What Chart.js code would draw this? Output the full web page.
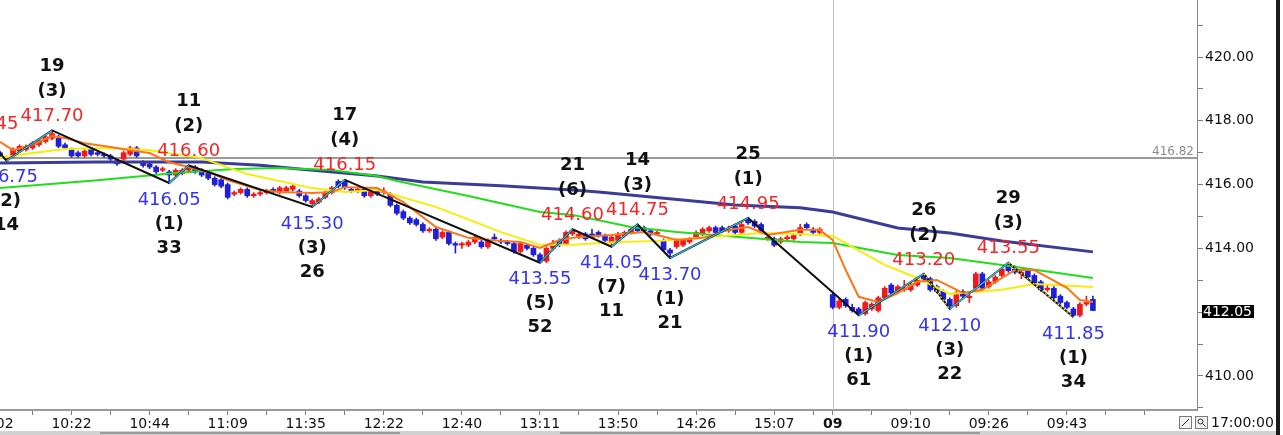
<!DOCTYPE html>
<html>
<head>
<meta charset="utf-8">
<script src="https://cdn.jsdelivr.net/npm/chart.js@4"></script>
<style>
  html, body { margin: 0; padding: 0; background: #fff; overflow: hidden; }
  canvas { display: block; }
</style>
</head>
<body>
<canvas id="myChart" width="1283" height="435"></canvas>
<script>
// candles, one per slot (slot 127 is empty, day break at 128)
let opens = [
  417.00, 416.80, 416.90, 417.05, 417.10, 417.15, 417.25, 417.35, 417.45, 417.45,
  417.25, 417.10, 417.00, 416.90, 417.10, 417.00, 416.95, 416.90, 416.75, 416.80,
  416.95, 417.15, 416.70, 416.65, 416.55, 416.45, 416.40, 416.30, 416.35, 416.45,
  416.55, 416.45, 416.35, 416.20, 416.15, 416.00, 415.70, 415.75, 415.85, 415.65,
  415.70, 415.75, 415.85, 415.75, 415.80, 415.85, 415.80, 415.65, 415.40, 415.45,
  415.60, 415.75, 416.10, 416.10, 415.85, 415.80, 415.85, 415.65, 415.80, 415.75,
  415.70, 415.35, 415.15, 414.95, 414.90, 414.75, 414.55, 414.60, 414.35, 414.50,
  414.15, 414.10, 414.10, 414.20, 414.20, 414.05, 414.35, 414.25, 414.20, 414.15,
  413.90, 414.10, 414.00, 413.80, 413.60, 414.00, 414.25, 414.15, 414.45, 414.35,
  414.45, 414.45, 414.50, 414.40, 414.20, 414.25, 414.40, 414.50, 414.70, 414.65,
  414.55, 414.45, 414.25, 413.95, 414.05, 414.10, 414.20, 414.35, 414.45, 414.55,
  414.65, 414.65, 414.55, 414.70, 414.50, 414.90, 414.85, 414.75, 414.30, 414.30,
  414.20, 414.30, 414.30, 414.45, 414.75, 414.60, 414.50, null, 412.55, 412.15,
  412.40, 412.15, 412.10, 411.95, 412.10, 412.05, 412.45, 412.85, 412.65, 412.70,
  412.70, 412.85, 413.15, 413.05, 412.80, 412.65, 412.40, 412.20, 412.65, 412.45,
  412.75, 413.20, 412.80, 412.95, 413.15, 413.45, 413.35, 413.20, 413.30, 413.15,
  412.95, 412.70, 412.75, 412.50, 412.30, 412.10, 411.90, 412.25, 412.40
];
let highs = [
  417.05, 416.90, 417.15, 417.25, 417.25, 417.35, 417.40, 417.55, 417.70, 417.55,
  417.30, 417.15, 417.05, 417.10, 417.15, 417.05, 417.00, 416.95, 416.80, 417.05,
  417.20, 417.20, 416.75, 416.70, 416.60, 416.55, 416.45, 416.50, 416.50, 416.60,
  416.60, 416.50, 416.40, 416.25, 416.20, 416.05, 415.80, 415.90, 415.90, 415.75,
  415.80, 415.85, 415.90, 415.95, 415.95, 416.00, 415.85, 415.70, 415.55, 415.60,
  415.80, 415.95, 416.15, 416.15, 415.90, 415.90, 415.90, 415.85, 415.85, 415.90,
  415.75, 415.40, 415.20, 415.00, 414.95, 414.80, 414.65, 414.65, 414.55, 414.55,
  414.20, 414.20, 414.25, 414.40, 414.25, 414.30, 414.45, 414.30, 414.25, 414.20,
  414.20, 414.15, 414.05, 413.85, 414.05, 414.25, 414.30, 414.55, 414.60, 414.50,
  414.50, 414.60, 414.55, 414.45, 414.40, 414.50, 414.55, 414.65, 414.75, 414.70,
  414.60, 414.55, 414.30, 414.00, 414.30, 414.30, 414.35, 414.55, 414.65, 414.70,
  414.70, 414.70, 414.70, 414.75, 414.80, 414.95, 414.90, 414.80, 414.40, 414.35,
  414.35, 414.40, 414.45, 414.75, 414.80, 414.65, 414.65, null, 412.60, 412.40,
  412.45, 412.25, 412.15, 412.35, 412.30, 412.50, 412.80, 412.90, 412.85, 413.00,
  412.95, 413.10, 413.20, 413.10, 412.85, 412.70, 412.45, 412.65, 412.70, 412.60,
  413.25, 413.25, 413.00, 413.15, 413.40, 413.55, 413.45, 413.35, 413.35, 413.20,
  413.00, 412.85, 412.80, 412.55, 412.35, 412.15, 412.30, 412.50, 412.50
];
let lows = [
  416.85, 416.75, 416.85, 417.00, 417.05, 417.10, 417.20, 417.30, 417.40, 417.15,
  417.10, 416.85, 416.85, 416.85, 416.90, 416.90, 416.85, 416.75, 416.60, 416.75,
  416.90, 416.85, 416.55, 416.50, 416.35, 416.40, 416.05, 416.25, 416.30, 416.40,
  416.35, 416.25, 416.15, 415.95, 415.90, 415.55, 415.65, 415.70, 415.60, 415.60,
  415.65, 415.70, 415.75, 415.70, 415.75, 415.80, 415.60, 415.45, 415.30, 415.40,
  415.55, 415.70, 415.90, 415.85, 415.75, 415.75, 415.60, 415.60, 415.65, 415.70,
  415.30, 415.05, 414.90, 414.75, 414.70, 414.50, 414.50, 414.25, 414.30, 414.10,
  413.85, 414.00, 414.05, 414.15, 414.00, 414.00, 414.25, 414.15, 414.10, 413.85,
  413.85, 413.95, 413.75, 413.55, 413.55, 413.95, 414.05, 414.10, 414.40, 414.30,
  414.25, 414.30, 414.35, 414.20, 414.05, 414.20, 414.35, 414.45, 414.50, 414.50,
  414.40, 414.40, 413.90, 413.70, 414.00, 414.05, 414.15, 414.30, 414.40, 414.50,
  414.45, 414.50, 414.50, 414.45, 414.45, 414.75, 414.65, 414.45, 414.25, 414.05,
  414.15, 414.25, 414.25, 414.40, 414.60, 414.45, 414.45, null, 412.10, 412.10,
  412.15, 412.00, 411.90, 411.90, 412.05, 412.00, 412.40, 412.55, 412.60, 412.65,
  412.65, 412.80, 412.95, 412.65, 412.60, 412.35, 412.10, 412.15, 412.45, 412.30,
  412.70, 412.70, 412.75, 412.90, 413.10, 413.25, 413.20, 413.05, 413.05, 412.85,
  412.65, 412.65, 412.40, 412.25, 412.10, 411.85, 411.85, 412.20, 412.05
];
let closes = [
  416.90, 416.85, 417.10, 417.20, 417.20, 417.30, 417.40, 417.50, 417.60, 417.20,
  417.15, 416.90, 416.90, 417.05, 416.95, 416.95, 416.90, 416.80, 416.65, 417.00,
  417.15, 416.90, 416.60, 416.55, 416.40, 416.50, 416.30, 416.45, 416.45, 416.55,
  416.40, 416.30, 416.20, 416.00, 415.95, 415.60, 415.75, 415.85, 415.65, 415.70,
  415.75, 415.80, 415.80, 415.90, 415.90, 415.95, 415.65, 415.50, 415.50, 415.55,
  415.75, 415.90, 415.95, 415.90, 415.80, 415.85, 415.65, 415.80, 415.70, 415.80,
  415.35, 415.10, 414.95, 414.80, 414.75, 414.55, 414.60, 414.30, 414.50, 414.15,
  414.10, 414.15, 414.20, 414.35, 414.05, 414.25, 414.30, 414.20, 414.15, 413.90,
  414.15, 414.00, 413.80, 413.60, 414.00, 414.15, 414.10, 414.50, 414.55, 414.45,
  414.30, 414.35, 414.40, 414.25, 414.35, 414.45, 414.50, 414.60, 414.55, 414.55,
  414.45, 414.50, 413.95, 413.85, 414.25, 414.25, 414.30, 414.50, 414.60, 414.65,
  414.50, 414.55, 414.60, 414.50, 414.75, 414.80, 414.70, 414.50, 414.35, 414.10,
  414.30, 414.35, 414.40, 414.65, 414.65, 414.50, 414.60, null, 412.15, 412.35,
  412.20, 412.05, 411.95, 412.30, 412.25, 412.45, 412.75, 412.60, 412.80, 412.75,
  412.85, 413.05, 413.00, 412.70, 412.65, 412.40, 412.20, 412.60, 412.50, 412.50,
  413.20, 412.75, 412.95, 413.10, 413.35, 413.30, 413.25, 413.25, 413.10, 412.90,
  412.70, 412.75, 412.45, 412.30, 412.15, 411.90, 412.25, 412.30, 412.05
];

// moving averages (slot, value)
let ma5Idx = [0, 2, 5, 8, 10, 13, 17, 20, 23, 26, 29, 32, 35, 40, 43, 48, 51, 53, 58, 62, 67, 72, 75, 80, 83, 86, 89, 94, 99, 101, 104, 108, 112, 115, 118, 123, 126, 128, 130, 132, 135, 138, 141, 144, 148, 151, 154, 156, 159, 161, 164, 166, 168];
let ma5Val = [417.34, 417.08, 417.25, 417.52, 417.46, 417.30, 417.18, 417.08, 416.99, 416.70, 416.55, 416.39, 416.14, 415.83, 415.77, 415.74, 415.77, 415.92, 415.89, 415.45, 414.67, 414.33, 414.26, 414.20, 414.01, 414.26, 414.36, 414.42, 414.51, 414.42, 414.26, 414.33, 414.58, 414.67, 414.42, 414.58, 414.58, 414.26, 413.32, 412.48, 412.32, 412.60, 412.95, 413.01, 412.60, 412.70, 413.07, 413.32, 413.32, 413.10, 412.76, 412.38, 412.32];
let ma20Idx = [0, 5, 10, 17, 23, 31, 38, 48, 53, 58, 67, 77, 83, 88, 95, 101, 117, 123, 128, 136, 141, 146, 154, 159, 168];
let ma20Val = [416.83, 416.99, 417.12, 417.15, 417.08, 416.83, 416.33, 415.89, 415.77, 415.83, 415.30, 414.51, 414.11, 414.11, 414.20, 414.23, 414.48, 414.45, 414.39, 413.48, 413.07, 412.57, 412.70, 412.88, 412.79];
let ma60Idx = [0, 15, 27, 36, 43, 51, 58, 61, 72, 83, 88, 97, 104, 115, 123, 128, 138, 146, 154, 168];
let ma60Val = [415.89, 416.14, 416.36, 416.49, 416.52, 416.46, 416.27, 416.11, 415.64, 415.14, 415.05, 414.67, 414.51, 414.33, 414.20, 414.17, 413.79, 413.70, 413.48, 413.07];
let ma120Idx = [0, 15, 31, 40, 46, 58, 65, 77, 88, 92, 113, 123, 128, 138, 146, 154, 168];
let ma120Val = [416.68, 416.71, 416.71, 416.61, 416.49, 416.27, 416.08, 415.96, 415.83, 415.77, 415.36, 415.27, 415.14, 414.64, 414.48, 414.23, 413.89];

// swing points of the zigzag
let swingIdx = [-2, 1, 8, 26, 29, 48, 53, 83, 88, 94, 98, 103, 115, 132, 142, 146, 155, 165];
let swingPrice = [417.45, 416.75, 417.70, 416.05, 416.60, 415.30, 416.15, 413.55, 414.60, 414.05, 414.75, 413.70, 414.95, 411.90, 413.20, 412.10, 413.55, 411.85];
let swingWave = ['', '(2)', '(3)', '(1)', '(2)', '(3)', '(4)', '(5)', '(6)', '(7)', '(3)', '(1)', '(1)', '(1)', '(2)', '(3)', '(3)', '(1)'];
let swingCount = ['', '14', '19', '33', '11', '26', '17', '52', '21', '11', '14', '21', '25', '61', '26', '22', '29', '34'];

// time axis
let tickIdx = [-1, 11, 23, 35, 47, 59, 71, 83, 95, 107, 119, 128, 140, 152, 164];
let tickText = ['10:02', '10:22', '10:44', '11:09', '11:35', '12:22', '12:40', '13:11', '13:50', '14:26', '15:07', '09', '09:10', '09:26', '09:43'];
let minorIdx = [5, 17, 29, 41, 53, 65, 77, 89, 101, 113, 125, 134, 146, 158, 170, 176];
let dayBreak = 128;
let prevClose = 416.82;

const RED = '#f01a1a';
const BLUE = '#1f1fd9';
const FONT = '"DejaVu Sans"';

let bodies = [], wicks = [], candleColors = [];
opens.forEach((o, i) => {
  if (o === null) return;
  bodies.push({x: i, y: [o, closes[i]]});
  wicks.push({x: i, y: [lows[i], highs[i]]});
  candleColors.push(closes[i] >= o ? RED : BLUE);
});
let lastPrice = closes[closes.length - 1];

const toPts = (idx, val) => idx.map((v, k) => ({x: v, y: val[k]}));

// up legs and late down legs of the zigzag
function legs(up, from) {
  let pts = [];
  for (let k = 1; k < swingIdx.length; k++) {
    let rising = swingPrice[k] > swingPrice[k - 1];
    if (rising === up && swingIdx[k - 1] >= from) {
      pts.push({x: swingIdx[k - 1], y: swingPrice[k - 1]}, {x: swingIdx[k], y: swingPrice[k]}, {x: swingIdx[k], y: null});
    }
  }
  return pts;
}

const refLines = {
  id: 'refLines',
  beforeDatasetsDraw(chart) {
    const {ctx, chartArea: a, scales: {x, y}} = chart;
    ctx.save();
    let yl = Math.round(y.getPixelForValue(prevClose));
    ctx.strokeStyle = '#9b9b9b';
    ctx.lineWidth = 2;
    ctx.beginPath(); ctx.moveTo(a.left, yl); ctx.lineTo(a.right, yl); ctx.stroke();
    let xd = Math.round(x.getPixelForValue(dayBreak)) + 0.5;
    ctx.strokeStyle = '#c2c2c2';
    ctx.lineWidth = 1;
    ctx.beginPath(); ctx.moveTo(xd, 0); ctx.lineTo(xd, a.bottom); ctx.stroke();
    ctx.restore();
  }
};

const swingLabels = {
  id: 'swingLabels',
  afterDatasetsDraw(chart) {
    const {ctx, scales: {x, y}} = chart;
    ctx.save();
    ctx.textAlign = 'center';
    ctx.textBaseline = 'middle';
    swingIdx.forEach((idx, k) => {
      let px = x.getPixelForValue(idx);
      let py = y.getPixelForValue(swingPrice[k]);
      let high = k === 0 ? swingPrice[k] > swingPrice[k + 1] : swingPrice[k] > swingPrice[k - 1];
      ctx.font = '18px ' + FONT;
      ctx.fillStyle = high ? '#f52525' : '#3434ee';
      ctx.fillText(swingPrice[k].toFixed(2), px, high ? py - 14 : py + 17);
      ctx.font = 'bold 18px ' + FONT;
      ctx.fillStyle = '#111';
      ctx.fillText(swingWave[k], px, high ? py - 39 : py + 41);
      ctx.fillText(swingCount[k], px, high ? py - 64 : py + 65);
    });
    ctx.restore();
  }
};

const chrome = {
  id: 'chrome',
  afterDraw(chart) {
    const {ctx, chartArea: a, scales: {y}} = chart;
    ctx.save();
    // previous close tag
    ctx.font = '12px ' + FONT;
    ctx.fillStyle = '#8c8c8c';
    ctx.textAlign = 'right';
    ctx.textBaseline = 'bottom';
    ctx.fillText(prevClose.toFixed(2), a.right - 3, y.getPixelForValue(prevClose) - 1);
    // last price box
    let yl = Math.round(y.getPixelForValue(lastPrice));
    ctx.fillStyle = '#000';
    ctx.fillRect(a.right + 5, yl - 6, 52, 13);
    ctx.fillStyle = '#fff';
    ctx.font = '14px ' + FONT;
    ctx.textAlign = 'left';
    ctx.textBaseline = 'middle';
    ctx.fillText(lastPrice.toFixed(2), a.right + 6, yl + 1);
    // bottom scroll strip
    ctx.fillStyle = '#d2d2d2';
    ctx.fillRect(0, 431, 1276, 4);
    ctx.fillStyle = '#9a9a9a';
    ctx.fillRect(100, 432, 300, 2);
    ctx.fillRect(560, 432, 420, 2);
    // small icons
    [1179, 1195].forEach((ix, n) => {
      ctx.fillStyle = '#f2f2f2';
      ctx.fillRect(ix, 416, 13, 13);
      ctx.strokeStyle = '#7a7a7a';
      ctx.lineWidth = 1;
      ctx.strokeRect(ix + 0.5, 416.5, 12, 12);
      ctx.strokeStyle = '#333';
      ctx.beginPath();
      if (n === 0) {
        ctx.moveTo(ix + 3, 426); ctx.lineTo(ix + 10, 419);
      } else {
        ctx.arc(ix + 5.5, 421.5, 2.5, 0, Math.PI * 2);
        ctx.moveTo(ix + 7.5, 423.5); ctx.lineTo(ix + 10.5, 426.5);
      }
      ctx.stroke();
    });
    ctx.fillStyle = '#111';
    ctx.font = '14px ' + FONT;
    ctx.fillText('17:00:00', 1211, 423);
    // window frame
    ctx.fillStyle = '#1b1b1b';
    ctx.fillRect(1276, 0, 4, 435);
    ctx.restore();
  }
};

let ctx = document.getElementById('myChart').getContext('2d');

let myChart = new Chart(ctx, {
  type: 'line',
  data: {
    datasets: [
      { type: 'line', data: legs(true, 0), borderColor: '#2ec9e8', borderWidth: 1.2, pointRadius: 0, spanGaps: false, order: 1 },
      { type: 'line', data: legs(false, 128), borderColor: '#f2e600', borderWidth: 1.2, borderDash: [2, 2], pointRadius: 0, spanGaps: false, order: 1 },
      { type: 'line', data: toPts(swingIdx, swingPrice), borderColor: '#111', borderWidth: 2, pointRadius: 0, order: 2 },
      { type: 'line', data: toPts(ma5Idx, ma5Val), borderColor: '#ff7417', borderWidth: 2, pointRadius: 0, order: 3 },
      { type: 'line', data: toPts(ma20Idx, ma20Val), borderColor: '#f5ee0a', borderWidth: 2, pointRadius: 0, order: 4 },
      { type: 'line', data: toPts(ma60Idx, ma60Val), borderColor: '#22dd1c', borderWidth: 2, pointRadius: 0, order: 5 },
      { type: 'line', data: toPts(ma120Idx, ma120Val), borderColor: '#3b3b98', borderWidth: 3, pointRadius: 0, order: 6 },
      { type: 'bar', data: bodies, backgroundColor: candleColors, barThickness: 5, grouped: false, minBarLength: 1, order: 10 },
      { type: 'bar', data: wicks, backgroundColor: candleColors, barThickness: 1, grouped: false, order: 11 }
    ]
  },
  options: {
    responsive: false,
    animation: false,
    devicePixelRatio: 1,
    events: [],
    layout: { padding: 0 },
    plugins: {
      legend: { display: false },
      tooltip: { enabled: false }
    },
    elements: { line: { tension: 0 }, point: { radius: 0 } },
    scales: {
      x: {
        type: 'linear',
        min: 0,
        max: 184,
        offset: false,
        afterBuildTicks: (s) => {
          s.ticks = tickIdx.concat(minorIdx).sort((p, q) => p - q).map(v => ({value: v}));
        },
        afterFit: (s) => { s.height = 25; s.paddingLeft = 0; s.paddingRight = 0; },
        ticks: {
          autoSkip: false,
          maxRotation: 0,
          padding: 1,
          color: '#111',
          font: (c) => (c.tick && c.tick.value === dayBreak)
            ? { family: FONT, size: 14, weight: 'bold' }
            : { family: FONT, size: 14 },
          callback: (v) => {
            let k = tickIdx.indexOf(v);
            return k >= 0 ? tickText[k] : '';
          }
        },
        grid: { drawOnChartArea: false, drawTicks: true, tickLength: 5, color: '#7c7c7c', offset: false },
        border: { display: true, color: '#9a9a9a', width: 2 }
      },
      y: {
        type: 'linear',
        position: 'right',
        min: 408.93,
        max: 421.79,
        afterBuildTicks: (s) => {
          let t = [];
          for (let v = 409; v <= 421; v++) t.push({value: v});
          s.ticks = t;
        },
        afterFit: (s) => { s.width = 86; s.paddingTop = 0; s.paddingBottom = 0; },
        ticks: {
          padding: 2,
          color: '#111',
          font: { family: FONT, size: 14 },
          callback: (v) => (v % 2 === 0 && Math.abs(v - lastPrice) > 0.3) ? v.toFixed(2) : ''
        },
        grid: { drawOnChartArea: false, drawTicks: true, tickLength: 6, color: '#7c7c7c' },
        border: { display: true, color: '#8a8a8a', width: 1 }
      }
    }
  },
  plugins: [refLines, swingLabels, chrome]
});
</script>
</body>
</html>
